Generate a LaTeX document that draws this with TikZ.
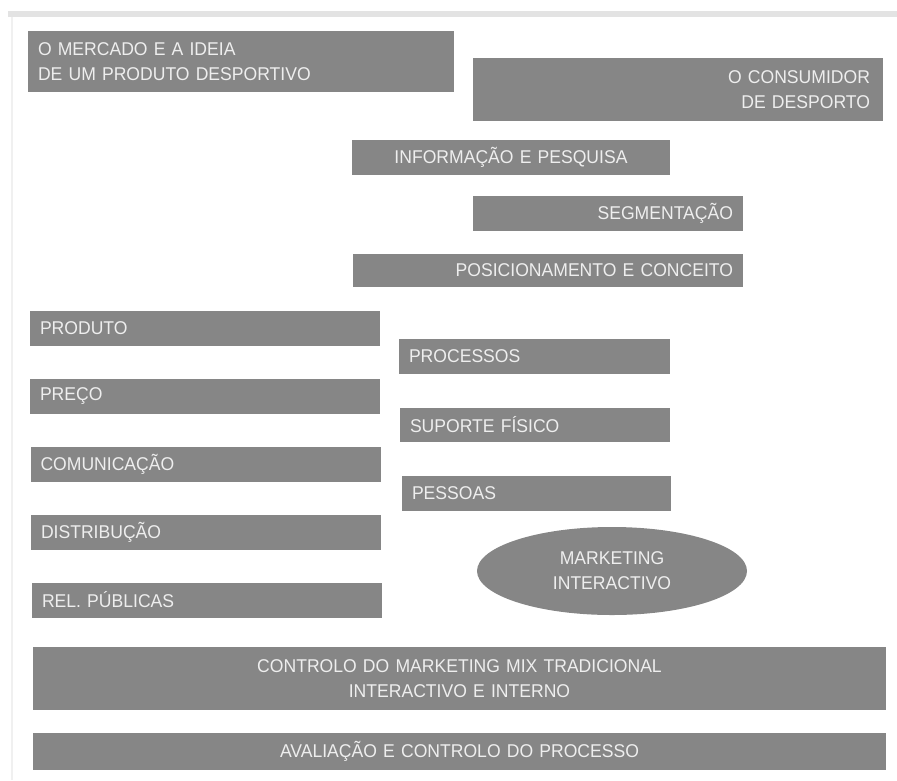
\documentclass[tikz,border=0pt]{standalone}
\usepackage{fontspec}
\setmainfont{Liberation Sans}[FakeStretch=0.95]
\usetikzlibrary{shapes.geometric}
\definecolor{boxgray}{RGB}{134,134,134}
\definecolor{boxtext}{RGB}{238,238,238}
\begin{document}
\begin{tikzpicture}
[x=1pt,y=-1pt,
 every node/.style={fill=boxgray,text=boxtext,font=\fontsize{18.5}{25}\selectfont,inner xsep=10pt,inner ysep=0pt},
 lbox/.style={rectangle,align=left},
 rbox/.style={rectangle,align=right},
 cbox/.style={rectangle,align=center}]
  \useasboundingbox (0,0) rectangle (897,780);
  % scan edges
  \fill[gray!22] (8,11) rectangle (897,17);
  \draw[gray!12,line width=2pt] (12,17) -- (12,780);

  \node[lbox,text width=406pt,minimum height=61pt] (mercado) at (241,61.5)
    {O MERCADO E A IDEIA\\DE UM PRODUTO DESPORTIVO};
  \node[rbox,text width=384pt,minimum height=63pt,inner xsep=13pt] (consumidor) at (678,89.5)
    {O CONSUMIDOR\\DE DESPORTO};
  \node[cbox,text width=298pt,minimum height=35pt] (informacao) at (511,157.5) {INFORMAÇÃO E PESQUISA};
  \node[rbox,text width=250pt,minimum height=35pt] (segmentacao) at (608,213.5) {SEGMENTAÇÃO};
  \node[rbox,text width=370pt,minimum height=33pt] (posicionamento) at (548,270.5) {POSICIONAMENTO E CONCEITO};

  \node[lbox,text width=330pt,minimum height=35pt] (produto) at (205,328.5) {PRODUTO};
  \node[lbox,text width=330pt,minimum height=35pt] (preco) at (205,396) {PREÇO};
  \node[lbox,text width=330pt,minimum height=35pt] (comunicacao) at (205.5,464.5) {COMUNICAÇÃO};
  \node[lbox,text width=330pt,minimum height=35pt] (distribucao) at (206,532.5) {DISTRIBUÇÃO};
  \node[lbox,text width=330pt,minimum height=35pt] (relpublicas) at (207,600) {REL. PÚBLICAS};

  \node[lbox,text width=251pt,minimum height=35pt] (processos) at (534.5,356.5) {PROCESSOS};
  \node[lbox,text width=250pt,minimum height=34pt] (suporte) at (535,425) {SUPORTE FÍSICO};
  \node[lbox,text width=249pt,minimum height=35pt] (pessoas) at (536.5,493.5) {PESSOAS};
  \node[ellipse,align=center,minimum width=270pt,minimum height=88pt,inner sep=0pt] (interactivo) at (612,571)
    {MARKETING\\INTERACTIVO};

  \node[cbox,text width=833pt,minimum height=63pt] (controlo) at (459.5,678.5)
    {CONTROLO DO MARKETING MIX TRADICIONAL\\INTERACTIVO E INTERNO};
  \node[cbox,text width=833pt,minimum height=37pt] (avaliacao) at (459.5,751.5)
    {AVALIAÇÃO E CONTROLO DO PROCESSO};
\end{tikzpicture}
\end{document}
